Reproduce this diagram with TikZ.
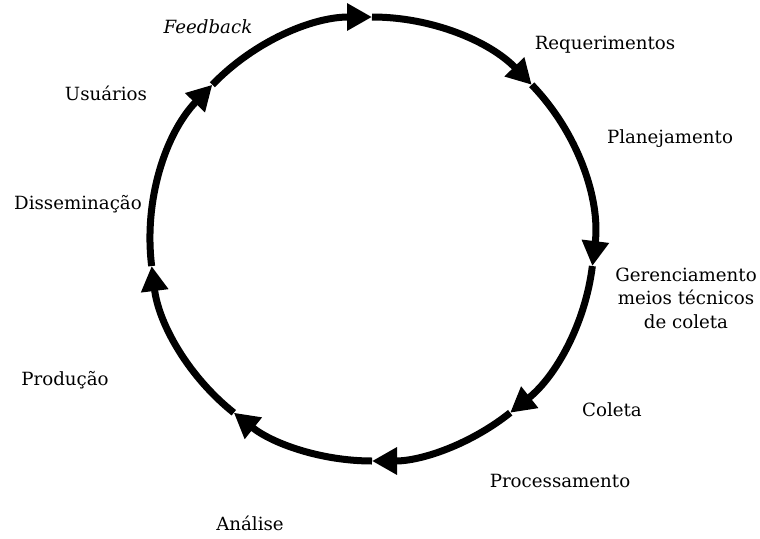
\documentclass[tikz,border=0pt]{standalone}
\usepackage{fontspec}
\setmainfont{DejaVu Serif}
\usetikzlibrary{arrows.meta}
\tikzset{lbl/.style={draw=none, fill=none, inner sep=1pt,
  font=\fontsize{18.2}{23.5}\selectfont, align=center}}

\begin{document}
\begin{tikzpicture}[x=1pt, y=-1pt, >={Triangle[length=25pt, width=26pt]},
  seg/.style={->, line width=7pt}]
  \useasboundingbox (0,0) rectangle (760,538);
  \coordinate (c) at (372,239);
  % points where the arrows end on the ring
  \coordinate (p1) at ([shift={(90:222pt)}]c);
  \coordinate (p2) at ([shift={(44:222pt)}]c);
  \coordinate (p3) at ([shift={(-7:222pt)}]c);
  \coordinate (p4) at ([shift={(-51.5:222pt)}]c);
  \coordinate (p5) at ([shift={(-90:222pt)}]c);
  \coordinate (p6) at ([shift={(-128.5:222pt)}]c);
  \coordinate (p7) at ([shift={(-173:222pt)}]c);
  \coordinate (p8) at ([shift={(136:222pt)}]c);
  % the cycle, clockwise
  \draw[seg] (p8) arc[start angle=136, end angle=90, radius=222pt];
  \draw[seg] (p1) arc[start angle=90, end angle=44, radius=222pt];
  \draw[seg] (p2) arc[start angle=44, end angle=-7, radius=222pt];
  \draw[seg] (p3) arc[start angle=-7, end angle=-51.5, radius=222pt];
  \draw[seg] (p4) arc[start angle=-51.5, end angle=-90, radius=222pt];
  \draw[seg] (p5) arc[start angle=-90, end angle=-128.5, radius=222pt];
  \draw[seg] (p6) arc[start angle=-128.5, end angle=-173, radius=222pt];
  \draw[seg] (p7) arc[start angle=-173, end angle=-224, radius=222pt];
  % labels
  \node[lbl, font=\fontsize{18.2}{23.5}\selectfont\itshape] (fb) at (208,27) {Feedback};
  \node[lbl] (req) at (605,45) {Requerimentos};
  \node[lbl] (plan) at (670,139) {Planejamento};
  \node[lbl] (ger) at (686,298) {Gerenciamento\\meios técnicos\\de coleta};
  \node[lbl] (col) at (612,410) {Coleta};
  \node[lbl] (proc) at (560,481) {Processamento};
  \node[lbl] (ana) at (250,523) {Análise};
  \node[lbl] (prod) at (65,380) {Produção};
  \node[lbl] (diss) at (78,204) {Disseminação};
  \node[lbl] (usu) at (106,93) {Usuários};
\end{tikzpicture}
\end{document}
